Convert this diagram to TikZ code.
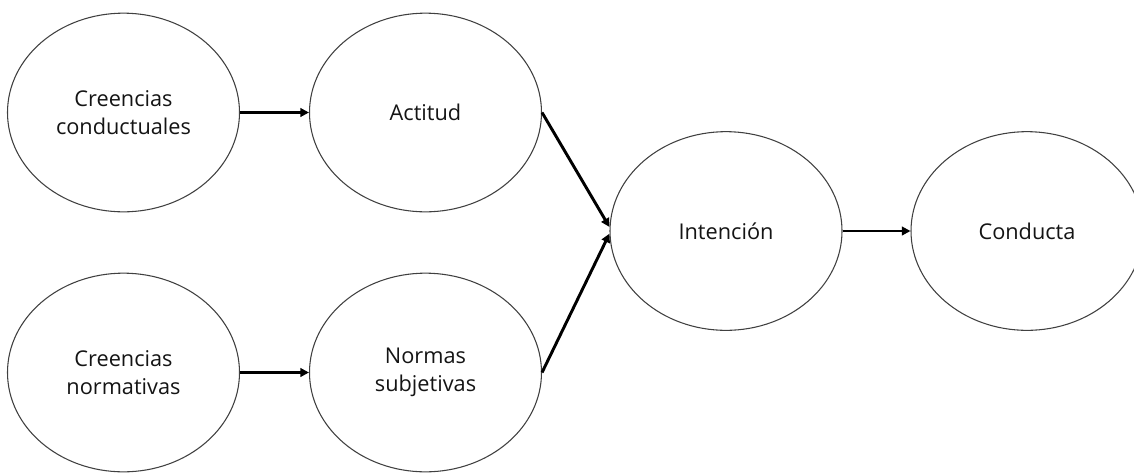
\documentclass[tikz,border=0pt]{standalone}
\usepackage{fontspec}
\setmainfont{Open Sans}
\usetikzlibrary{shapes.geometric,arrows.meta}
\begin{document}
\begin{tikzpicture}[x=0.75pt,y=-0.75pt,
  concept/.style={ellipse,draw=black!75,line width=0.8pt,inner sep=0pt,
    minimum width=174pt,minimum height=149pt,align=center,
    text=black!92,font=\fontsize{16.3}{20.8}\selectfont},
  link/.style={line width=2.2pt,draw=black,
    -{Triangle[length=6.5pt,width=6.5pt]}}]
  \useasboundingbox (0,0) rectangle (1134,472);
  % behavioural and normative branches
  \node[concept] (cc) at (123.5,112.5) {Creencias\\conductuales};
  \node[concept] (act) at (425.5,112.5) {Actitud};
  \node[concept] (cn) at (123.5,372.5) {Creencias\\normativas};
  \node[concept] (ns) at (425.5,372.5) {Normas\\subjetivas};
  % intention and behaviour
  \node[concept] (int) at (726,231) {Intención};
  \node[concept] (con) at (1027,231) {Conducta};
  % connectors
  \draw[link] (cc.east) -- (act.west);
  \draw[link] (cn.east) -- (ns.west);
  \draw[link] (act.east) -- ([yshift=3pt]int.west);
  \draw[link] (ns.east) -- ([yshift=-2pt]int.west);
  \draw[link] (int.east) -- (con.west);
\end{tikzpicture}
\end{document}
